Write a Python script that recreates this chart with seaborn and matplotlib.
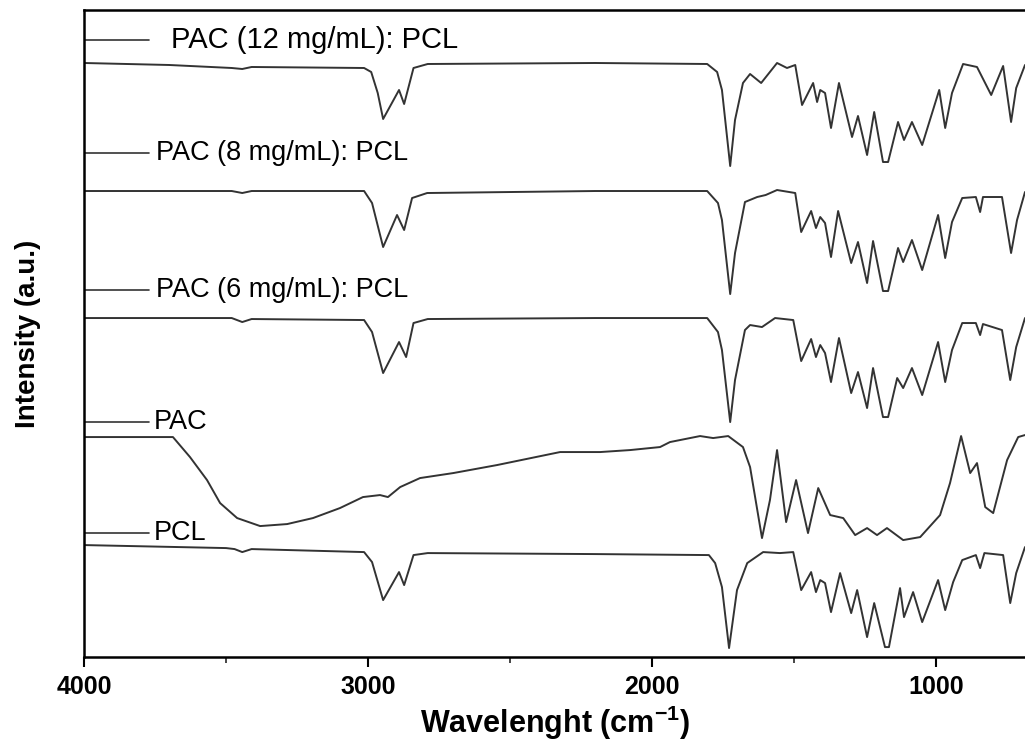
import numpy as np
import pandas as pd
import matplotlib
matplotlib.use("Agg")
import matplotlib.pyplot as plt
import seaborn as sns

# ---------------- data (wavenumber cm-1, stacked intensity a.u.) ----------------
pac12_wn = [4000, 3700, 3480, 3443, 3410, 3014, 2989, 2966, 2947, 2891, 2873, 2840, 2790, 2200,
            1806, 1771, 1754, 1725, 1708, 1680, 1655, 1616, 1560, 1525, 1496, 1472, 1433,
            1419, 1408, 1391, 1370, 1342, 1296, 1275, 1243, 1218, 1187, 1169, 1134, 1113,
            1085, 1049, 989, 968, 944, 905, 856, 806, 764, 736, 718, 687]
pac12_int = [5.94, 5.92, 5.89, 5.88, 5.90, 5.89, 5.85, 5.64, 5.38, 5.67, 5.53, 5.89, 5.93, 5.94,
             5.93, 5.85, 5.67, 4.91, 5.37, 5.74, 5.83, 5.74, 5.94, 5.89, 5.92, 5.52, 5.74,
             5.55, 5.67, 5.64, 5.29, 5.74, 5.20, 5.41, 5.02, 5.45, 4.95, 4.95, 5.35, 5.17,
             5.35, 5.12, 5.67, 5.29, 5.64, 5.93, 5.90, 5.62, 5.91, 5.35, 5.69, 5.92]

pac8_wn = [4000, 3480, 3443, 3410, 3014, 2986, 2947, 2898, 2873, 2845, 2792, 2200,
           1806, 1768, 1754, 1725, 1708, 1673, 1630, 1600, 1560, 1496, 1475, 1440, 1423,
           1408, 1391, 1370, 1345, 1299, 1275, 1243, 1222, 1187, 1169, 1134, 1116, 1085,
           1049, 993, 968, 944, 908, 860, 845, 835, 768, 736, 715, 687]
pac8_int = [4.66, 4.66, 4.64, 4.66, 4.66, 4.54, 4.10, 4.42, 4.27, 4.59, 4.64, 4.66,
            4.66, 4.54, 4.37, 3.63, 4.04, 4.55, 4.60, 4.62, 4.67, 4.64, 4.25, 4.46, 4.29,
            4.40, 4.34, 4.00, 4.46, 3.94, 4.15, 3.74, 4.16, 3.66, 3.66, 4.09, 3.95, 4.17,
            3.87, 4.42, 3.99, 4.35, 4.59, 4.60, 4.45, 4.60, 4.60, 4.04, 4.37, 4.65]

pac6_wn = [4000, 3480, 3443, 3410, 3014, 2986, 2947, 2891, 2866, 2840, 2790, 2200,
           1806, 1768, 1754, 1725, 1708, 1673, 1655, 1613, 1567, 1503, 1475, 1440, 1423,
           1408, 1391, 1370, 1342, 1299, 1275, 1243, 1222, 1187, 1169, 1137, 1116, 1085,
           1049, 993, 968, 944, 908, 860, 845, 835, 768, 739, 718, 687]
pac6_int = [3.39, 3.39, 3.35, 3.38, 3.37, 3.25, 2.84, 3.15, 3.00, 3.34, 3.38, 3.39,
            3.39, 3.25, 3.07, 2.35, 2.77, 3.27, 3.32, 3.30, 3.39, 3.37, 2.96, 3.18, 3.00,
            3.12, 3.04, 2.75, 3.19, 2.64, 2.85, 2.49, 2.89, 2.40, 2.40, 2.79, 2.69, 2.89,
            2.62, 3.15, 2.75, 3.07, 3.34, 3.34, 3.22, 3.33, 3.27, 2.77, 3.10, 3.39]

pac_wn = [4000, 3687, 3627, 3567, 3521, 3461, 3380, 3285, 3194, 3099, 3018, 2958, 2930,
          2887, 2817, 2700, 2546, 2324, 2183, 2077, 1972, 1937, 1831, 1785, 1732, 1680,
          1655, 1613, 1585, 1560, 1528, 1493, 1451, 1415, 1373, 1327, 1285, 1243, 1208,
          1173, 1116, 1056, 986, 951, 912, 880, 856, 827, 799, 750, 711, 687]
pac_int = [2.20, 2.20, 2.00, 1.77, 1.54, 1.39, 1.31, 1.33, 1.39, 1.49, 1.60, 1.62, 1.60,
           1.70, 1.79, 1.84, 1.92, 2.05, 2.05, 2.07, 2.10, 2.15, 2.21, 2.19, 2.21, 2.10,
           1.90, 1.19, 1.57, 2.07, 1.35, 1.77, 1.24, 1.69, 1.42, 1.39, 1.22, 1.29, 1.22,
           1.29, 1.17, 1.20, 1.42, 1.74, 2.21, 1.84, 1.94, 1.50, 1.44, 1.97, 2.20, 2.22]

pcl_wn = [4000, 3500, 3470, 3443, 3410, 3014, 2986, 2947, 2891, 2873, 2840, 2790, 2200,
          1800, 1778, 1754, 1729, 1701, 1665, 1609, 1550, 1503, 1475, 1440, 1423, 1408,
          1391, 1370, 1338, 1299, 1278, 1243, 1218, 1180, 1166, 1127, 1113, 1081, 1049,
          993, 968, 940, 908, 860, 845, 830, 764, 739, 718, 687]
pcl_int = [1.12, 1.09, 1.08, 1.05, 1.08, 1.05, 0.95, 0.57, 0.85, 0.72, 1.02, 1.04, 1.03,
           1.02, 0.94, 0.70, 0.09, 0.67, 0.94, 1.05, 1.04, 1.05, 0.67, 0.85, 0.65, 0.77,
           0.74, 0.45, 0.84, 0.44, 0.67, 0.20, 0.54, 0.10, 0.10, 0.69, 0.40, 0.65, 0.35,
           0.77, 0.47, 0.75, 0.97, 1.02, 0.89, 1.04, 1.02, 0.54, 0.84, 1.10]

series_names = ["PAC (12 mg/mL): PCL", "PAC (8 mg/mL): PCL", "PAC (6 mg/mL): PCL", "PAC", "PCL"]
series_wn = [pac12_wn, pac8_wn, pac6_wn, pac_wn, pcl_wn]
series_int = [pac12_int, pac8_int, pac6_int, pac_int, pcl_int]

x_ticks = [4000, 3000, 2000, 1000]
x_minor = [3500, 2500, 1500]

# ---------------- layout (positions/styles) ----------------
label_y = [6.17, 5.04, 3.67, 2.35, 1.24]          # label heights in data units
label_text_x = [3693, 3745, 3745, 3755, 3755]     # text start (wavenumber)
label_size = [21, 19.5, 19.5, 19.5, 19.5]
seg_end = 3770
line_color = "#333333"

sns.set_theme(style="white")
plt.rcParams["font.family"] = ["Liberation Sans", "DejaVu Sans"]
plt.rcParams["mathtext.fontset"] = "custom"
plt.rcParams["mathtext.rm"] = "Liberation Sans"
plt.rcParams["mathtext.bf"] = "Liberation Sans:bold"
plt.rcParams["text.color"] = "black"
plt.rcParams["axes.labelcolor"] = "black"

fig = plt.figure(figsize=(10.25, 7.45), dpi=100)
ax = fig.add_axes([0.082, 0.118, 0.918, 0.8686])

frames = []
for name, wn, it in zip(series_names, series_wn, series_int):
    frames.append(pd.DataFrame({"wn": wn, "intensity": it, "sample": name}))
df = pd.concat(frames, ignore_index=True)

for name in series_names:
    sub = df[df["sample"] == name]
    sns.lineplot(data=sub, x="wn", y="intensity", ax=ax, color=line_color,
                 linewidth=1.4, estimator=None, sort=True, legend=False,
                 solid_joinstyle="round")

# curve labels with short line samples
for name, yv, tx, fs in zip(series_names, label_y, label_text_x, label_size):
    ax.plot([4000, seg_end], [yv, yv], color=line_color, linewidth=1.2)
    ax.text(tx, yv, name, fontsize=fs, va="center", ha="left", color="black")

ax.set_xlim(4000, 687)
ax.set_ylim(0, 6.47)
ax.set_xticks(x_ticks)
ax.set_xticks(x_minor, minor=True)
ax.set_yticks([])
ax.tick_params(axis="x", which="major", direction="out", length=7, width=1.5,
               labelsize=18, pad=6, bottom=True, colors="black")
ax.tick_params(axis="x", which="minor", direction="out", length=4, width=1.2, bottom=True)
for lab in ax.get_xticklabels():
    lab.set_fontweight("bold")

ax.set_xlabel(r"Wavelenght (cm$^{\mathbf{-1}}$)", fontsize=22, fontweight="bold",
              labelpad=3, color="black")
ax.set_ylabel("Intensity (a.u.)", fontsize=20, fontweight="bold", labelpad=31, color="black")

for side in ["left", "bottom", "top"]:
    ax.spines[side].set_visible(True)
    ax.spines[side].set_color("black")
    ax.spines[side].set_linewidth(1.8)
ax.spines["right"].set_visible(False)

fig.savefig("out.png", dpi=100)
